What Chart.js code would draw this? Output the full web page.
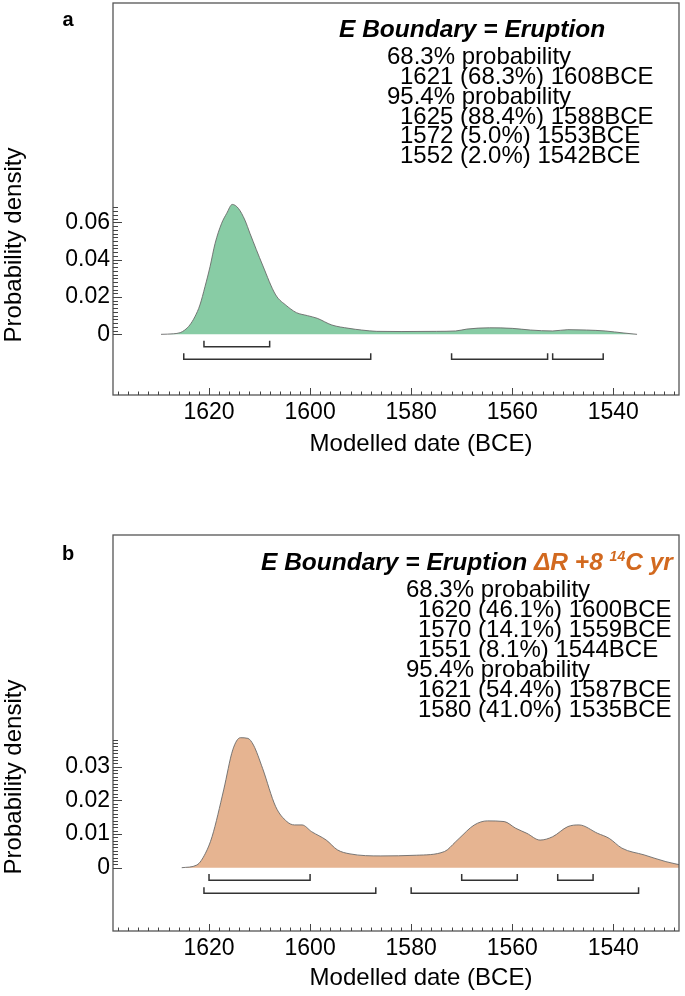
<!DOCTYPE html>
<html>
<head>
<meta charset="utf-8">
<script src="https://cdn.jsdelivr.net/npm/chart.js@4.4.1/dist/chart.umd.min.js"></script>
<style>
    body { margin: 0; background: #fff; width: 685px; height: 996px; overflow: hidden; position: relative; }
    .panel { position: absolute; left: 0; width: 685px; }
    #panelA { top: 0; height: 500px; }
    #panelB { top: 500px; height: 496px; }
</style>
</head>
<body>
<div class="panel" id="panelA"><canvas id="chartA" width="685" height="500"></canvas></div>
<div class="panel" id="panelB"><canvas id="chartB" width="685" height="496"></canvas></div>
<script>
// ---- data ----
const xTicks = [1620, 1600, 1580, 1560, 1540];

// panel a: E Boundary = Eruption
const aDates = [1629.5, 1627, 1625.7, 1624.8, 1623.8, 1622.8, 1621.8, 1620.8, 1619.8, 1618.8, 1617.5, 1616.5, 1615.4, 1614.2, 1612.9, 1611.9, 1609.4, 1606.8, 1604.6, 1603.8, 1602.7, 1600.5, 1598.6, 1595.7, 1592.3, 1589.8, 1586.8, 1582, 1575, 1571.2, 1569, 1564.5, 1560, 1556.4, 1552, 1549, 1545.3, 1541.6, 1537.9, 1535.3];
const aDensity = [0, 0.0003, 0.0009, 0.0023, 0.005, 0.0094, 0.0157, 0.0255, 0.0362, 0.0487, 0.0595, 0.0648, 0.0696, 0.0675, 0.0612, 0.0541, 0.0371, 0.0211, 0.0152, 0.0135, 0.0116, 0.0100, 0.0086, 0.005, 0.0032, 0.0023, 0.0016, 0.0015, 0.0016, 0.0018, 0.0028, 0.0035, 0.0032, 0.0023, 0.0018, 0.0025, 0.0023, 0.0018, 0.0007, 0];
const aRanges68 = [[1621, 1608]];
const aRanges95 = [[1625, 1588], [1572, 1553], [1552, 1542]];
const aYTicks = [0, 0.02, 0.04, 0.06];
const aTitle = 'E Boundary = Eruption';
const aLines = ['68.3% probability', '1621 (68.3%) 1608BCE', '95.4% probability', '1625 (88.4%) 1588BCE', '1572 (5.0%) 1553BCE', '1552 (2.0%) 1542BCE'];

// panel b: E Boundary = Eruption, delta R +8
const bDates = [1625.4, 1622.4, 1620.7, 1619.4, 1617.1, 1615.3, 1613.8, 1612.3, 1611.2, 1609.4, 1606.8, 1604.6, 1603.1, 1601.6, 1599.7, 1596.8, 1594.6, 1592.1, 1586, 1579, 1573.4, 1571.2, 1570.5, 1567.5, 1564.9, 1561.6, 1559.3, 1557.1, 1554.5, 1552, 1549, 1546.8, 1543.1, 1540.8, 1538.3, 1533.9, 1529.6, 1526];
const bDensity = [0, 0.0008, 0.0043, 0.0092, 0.0231, 0.035, 0.0386, 0.0384, 0.0364, 0.0295, 0.0181, 0.0137, 0.0127, 0.0127, 0.0107, 0.0082, 0.0053, 0.0041, 0.0035, 0.0037, 0.0048, 0.0077, 0.0087, 0.0127, 0.0139, 0.0137, 0.0117, 0.0102, 0.0082, 0.0092, 0.0122, 0.0127, 0.0102, 0.0087, 0.0058, 0.0038, 0.0018, 0.0006];
const bRanges68 = [[1620, 1600], [1570, 1559], [1551, 1544]];
const bRanges95 = [[1621, 1587], [1580, 1535]];
const bYTicks = [0, 0.01, 0.02, 0.03];
const bTitle = 'E Boundary = Eruption ';
const bTitleExtra = ['ΔR +8 ', '14', 'C yr'];
const bLines = ['68.3% probability', '1620 (46.1%) 1600BCE', '1570 (14.1%) 1559BCE', '1551 (8.1%) 1544BCE', '95.4% probability', '1621 (54.4%) 1587BCE', '1580 (41.0%) 1535BCE'];

const FONT = 'Liberation Sans, Arial, sans-serif';

// turn [start, end] ranges into hooked bracket polylines
function bracketPoints(ranges, level, hook) {
    const pts = [];
    ranges.forEach(r => {
        pts.push({ x: r[0], y: level + hook });
        pts.push({ x: r[0], y: level });
        pts.push({ x: r[1], y: level });
        pts.push({ x: r[1], y: level + hook });
        pts.push({ x: r[1], y: null });
    });
    return pts;
}

// box, inward tick marks and all the annotation text
const panelDeco = {
    id: 'panelDeco',
    afterDraw(chart, args, o) {
        const ctx = chart.ctx;
        const area = chart.chartArea;
        const xs = chart.scales.x, ys = chart.scales.y;
        ctx.save();

        // frame
        ctx.strokeStyle = '#555';
        ctx.lineWidth = 1.3;
        ctx.strokeRect(area.left, area.top, area.right - area.left, area.bottom - area.top);

        // tick marks pointing into the plot
        ctx.strokeStyle = '#444';
        ctx.lineWidth = 1;
        ctx.beginPath();
        for (let d = 1638; d >= 1528; d -= 2) {
            const px = Math.round(xs.getPixelForValue(d)) + 0.5;
            const len = xTicks.includes(d) ? 7 : 3.5;
            ctx.moveTo(px, area.bottom);
            ctx.lineTo(px, area.bottom - len);
        }
        const nMinor = Math.round(o.yMinorMax / o.yMinorStep);
        for (let i = 0; i <= nMinor; i++) {
            const v = i * o.yMinorStep;
            const py = Math.round(ys.getPixelForValue(v)) + 0.5;
            const isMajor = o.yTicks.some(t => Math.abs(t - v) < 1e-9);
            ctx.moveTo(area.left, py);
            ctx.lineTo(area.left + (isMajor ? 9 : 5), py);
        }
        ctx.stroke();

        ctx.fillStyle = '#000';
        ctx.textBaseline = 'middle';

        // panel letter
        ctx.font = 'bold 20px ' + FONT;
        ctx.textAlign = 'center';
        ctx.fillText(o.letter, 68, o.letterY);

        // title
        ctx.textAlign = 'left';
        ctx.font = 'italic bold 24.5px ' + FONT;
        ctx.fillText(o.title, o.titleX, o.titleY);
        if (o.titleExtra) {
            let x = o.titleX + ctx.measureText(o.title).width;
            ctx.fillStyle = '#D2691F';
            ctx.fillText(o.titleExtra[0], x, o.titleY);
            x += ctx.measureText(o.titleExtra[0]).width;
            ctx.font = 'italic bold 14px ' + FONT;
            ctx.fillText(o.titleExtra[1], x, o.titleY - 6);
            x += ctx.measureText(o.titleExtra[1]).width;
            ctx.font = 'italic bold 24.5px ' + FONT;
            ctx.fillText(o.titleExtra[2], x, o.titleY);
            ctx.fillStyle = '#000';
        }

        // probability ranges
        ctx.font = '24px ' + FONT;
        o.lines.forEach((t, i) => {
            const x = t.includes('probability') ? o.probX : o.numX;
            ctx.fillText(t, x, o.firstY + i * o.lineH);
        });

        // axis titles
        ctx.font = '24px ' + FONT;
        ctx.textAlign = 'center';
        ctx.fillText('Modelled date (BCE)', 421, o.xTitleY);
        ctx.translate(14, o.yTitleY);
        ctx.rotate(-Math.PI / 2);
        ctx.fillText('Probability density', 0, 0);

        ctx.restore();
    }
};

function makePanel(canvasId, p) {
    return new Chart(document.getElementById(canvasId), {
        type: 'line',
        data: {
            datasets: [
                {
                    data: p.dates.map((d, i) => ({ x: d, y: p.density[i] })),
                    fill: 'origin',
                    backgroundColor: p.fill,
                    borderColor: '#6a6a6a',
                    borderWidth: 0.9,
                    pointRadius: 0,
                    cubicInterpolationMode: 'monotone'
                },
                {
                    data: bracketPoints(p.r68, p.lvl68, p.hook),
                    borderColor: '#333',
                    borderWidth: 1.5,
                    pointRadius: 0,
                    fill: false,
                    spanGaps: false
                },
                {
                    data: bracketPoints(p.r95, p.lvl95, p.hook),
                    borderColor: '#333',
                    borderWidth: 1.5,
                    pointRadius: 0,
                    fill: false,
                    spanGaps: false
                }
            ]
        },
        options: {
            responsive: false,
            animation: false,
            layout: { padding: { left: 0, top: p.boxTop, right: 6, bottom: 0 } },
            plugins: {
                legend: { display: false },
                tooltip: { enabled: false },
                panelDeco: p.deco
            },
            scales: {
                x: {
                    type: 'linear',
                    reverse: true,
                    min: 1527,
                    max: 1639,
                    afterBuildTicks: s => { s.ticks = xTicks.map(v => ({ value: v })); },
                    afterFit: s => {
                        s.height = p.xAxisH;
                        s.paddingLeft = 0;
                        s.paddingRight = 0;
                    },
                    grid: { display: false, drawTicks: false },
                    border: { display: false },
                    ticks: {
                        font: { family: FONT, size: 23 },
                        color: '#000',
                        padding: 4,
                        maxRotation: 0,
                        autoSkip: false,
                        callback: v => String(v)
                    }
                },
                y: {
                    min: p.ymin,
                    max: p.ymax,
                    afterBuildTicks: s => { s.ticks = p.deco.yTicks.map(v => ({ value: v })); },
                    afterFit: s => {
                        s.width = 113;
                        s.paddingTop = 0;
                        s.paddingBottom = 0;
                    },
                    grid: { display: false, drawTicks: false },
                    border: { display: false },
                    ticks: {
                        font: { family: FONT, size: 23 },
                        color: '#000',
                        padding: 3,
                        autoSkip: false,
                        callback: v => String(v)
                    }
                }
            }
        },
        plugins: [panelDeco]
    });
}

makePanel('chartA', {
    dates: aDates, density: aDensity, fill: '#88CCA5',
    r68: aRanges68, r95: aRanges95, lvl68: -0.0066, lvl95: -0.0134, hook: 0.0032,
    ymin: -0.0325, ymax: 0.1775, boxTop: 3, xAxisH: 105,
    deco: {
        letter: 'a', letterY: 20,
        title: aTitle, titleX: 339, titleY: 30,
        lines: aLines, probX: 387, numX: 400, firstY: 57.5, lineH: 19.8,
        yTicks: aYTicks, yMinorStep: 0.002, yMinorMax: 0.068,
        xTitleY: 444, yTitleY: 245
    }
});

makePanel('chartB', {
    dates: bDates, density: bDensity, fill: '#E6B491',
    r68: bRanges68, r95: bRanges95, lvl68: -0.0037, lvl95: -0.0076, hook: 0.0018,
    ymin: -0.0188, ymax: 0.0988, boxTop: 35, xAxisH: 65,
    deco: {
        letter: 'b', letterY: 54,
        title: bTitle, titleExtra: bTitleExtra, titleX: 261, titleY: 63,
        lines: bLines, probX: 406, numX: 418, firstY: 90.5, lineH: 20,
        yTicks: bYTicks, yMinorStep: 0.001, yMinorMax: 0.038,
        xTitleY: 478, yTitleY: 277
    }
});
</script>
</body>
</html>
